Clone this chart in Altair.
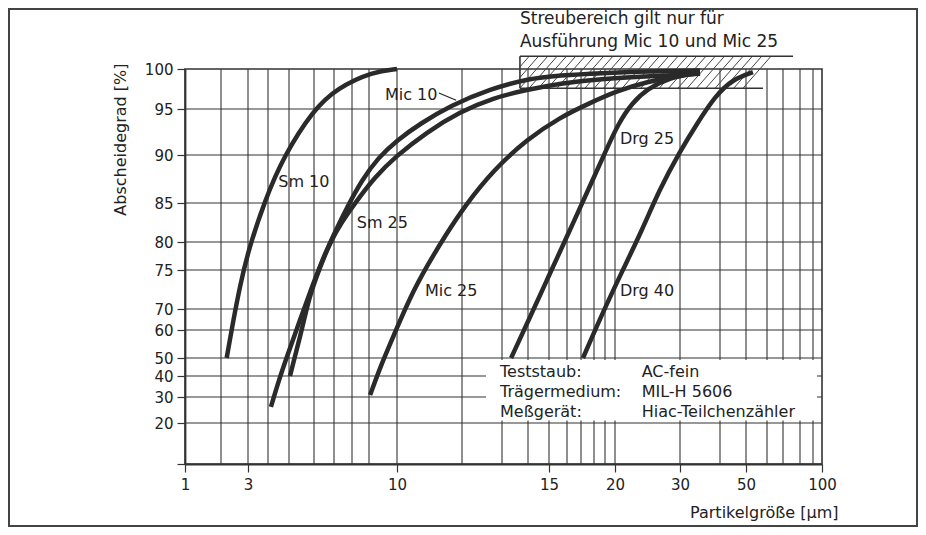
import altair as alt
import pandas as pd
import numpy as np

# ---------------- axis definitions (non-standard printed scales) ----------------
x_breaks = [1, 2, 3, 4, 5, 6, 7, 8, 9, 10, 12, 13, 14, 15, 16, 17, 18, 19, 20, 30, 40, 50, 60, 70, 80, 90, 100]
x_pos = [0, 36, 63, 83, 104, 129, 149, 167, 184, 212, 277, 317, 343, 364, 382, 396, 409, 420, 430, 495, 535, 561, 582, 598, 615, 628, 637]
x_labels = [1, 3, 10, 15, 20, 30, 50, 100]
y_breaks = [10, 20, 30, 40, 50, 60, 70, 75, 80, 85, 90, 95, 100]
y_pos = [395, 354, 328, 307, 289, 261, 240, 201, 173, 134, 86, 40, 0]
y_labels = [20, 30, 40, 50, 60, 70, 75, 80, 85, 90, 95, 100]

# ---------------- curves ----------------
sm10_x = [2.21, 2.46, 2.70, 3.02, 3.85, 4.73, 5.97, 7.15, 9.15, 10.0]
sm10_y = [50, 64.8, 72.9, 78.6, 85.3, 89.8, 94.9, 97.6, 99.7, 100]
mic10_x = [4.14, 4.52, 4.9, 5.44, 5.96, 6.5, 7.06, 7.78, 8.59, 9.32, 10.0, 10.71, 11.63, 12.7, 13.96, 15.61, 18.55, 25.4, 35]
mic10_y = [26.2, 38.1, 50.4, 64.8, 73.2, 77.5, 81.3, 84.7, 87.4, 89.7, 91.6, 93.4, 95.4, 97.5, 98.75, 99.2, 99.5, 99.7, 99.8]
sm25_x = [5.04, 5.24, 5.44, 5.64, 5.84, 6.3, 6.8, 7.44, 8.18, 9.21, 9.93, 10.92, 11.94, 12.78, 13.96, 15.61, 18.55, 25.4, 35]
sm25_y = [40, 50.7, 57.5, 66.7, 71.8, 75.5, 79.9, 82.6, 85, 87.7, 89.8, 92.5, 94.7, 96.4, 97.4, 98.2, 98.75, 99.1, 99.4]
mic25_x = [9.04, 9.43, 9.86, 10.4, 10.92, 11.48, 12.08, 12.78, 13.96, 15.61, 17.69, 20.3, 24.9, 30, 35]
mic25_y = [31.0, 46.1, 57.5, 71.5, 75.7, 80.8, 84.7, 88.4, 91.7, 94.1, 95.75, 97.25, 98.4, 99.2, 99.5]
drg25_x = [13.35, 14.1, 15.06, 16.2, 17.7, 19.1, 20.5, 22.6, 25.1, 28.5, 33.75]
drg25_y = [50, 66.2, 74.6, 81.5, 86.8, 90.5, 93.4, 95.75, 97.6, 98.9, 99.5]
drg40_x = [17.15, 18.82, 21.2, 24.15, 26.8, 30, 34.25, 38.75, 45, 53.3]
drg40_y = [50, 68.6, 75, 81.5, 86.35, 90.4, 93.4, 96.6, 98.75, 99.6]

series_names = ["Sm 10", "Mic 10", "Sm 25", "Mic 25", "Drg 25", "Drg 40"]
series_x = [sm10_x, mic10_x, sm25_x, mic25_x, drg25_x, drg40_x]
series_y = [sm10_y, mic10_y, sm25_y, mic25_y, drg25_y, drg40_y]

# curve labels
label_text = ["Sm 10", "Sm 25", "Mic 10", "Mic 25", "Drg 25", "Drg 40"]
label_x = [4.49, 8.28, 9.57, 10.86, 20.77, 20.77]
label_y = [87.2, 82.5, 96.8, 72.3, 91.7, 72.3]

# scatter band (Streubereich) for Mic 10 / Mic 25
band_x0, band_x1_top, band_x1_bot = 13.69, 75.9, 58.1
band_y0, band_y1 = 97.6, 101.6
band_note = ["Streubereich gilt nur für", "Ausführung Mic 10 und Mic 25"]

# info box
box_keys = ["Teststaub:", "Trägermedium:", "Meßgerät:"]
box_values = ["AC-fein", "MIL-H 5606", "Hiac-Teilchenzähler"]

# ---------------- build tables ----------------
rows = []
for name, xs_, ys_ in zip(series_names, series_x, series_y):
    for i, (a, b) in enumerate(zip(xs_, ys_)):
        rows.append({"series": name, "x": a, "y": b, "i": i})
curves = pd.DataFrame(rows)

labels = pd.DataFrame({"t": label_text, "x": label_x, "y": label_y})

xs = alt.Scale(type="linear", domain=x_breaks, range=x_pos, zero=False, nice=False)
ys = alt.Scale(type="linear", domain=y_breaks, range=y_pos, zero=False, nice=False)

FONT = "DejaVu Sans"
INK = "#2a2a2a"

x_axis = alt.Axis(values=x_labels, grid=False, title="Partikelgröße [µm]",
                  titleX=653, titleY=48, titleAlign="right", titleBaseline="middle",
                  labelFlush=False, labelOverlap=False, labelBound=False,
                  tickSize=8, labelPadding=5)
y_axis = alt.Axis(values=[10] + y_labels, grid=False, title="Abscheidegrad [%]",
                  labelExpr="datum.value == 10 ? '' : datum.label",
                  titleX=-65, titleY=-6, titleAngle=270, titleAlign="right",
                  titleBaseline="middle", labelFlush=False, labelOverlap=False,
                  tickSize=8, labelPadding=4)


def X(f="x"):
    return alt.X(f, type="quantitative", scale=xs, axis=x_axis)


def Y(f="y"):
    return alt.Y(f, type="quantitative", scale=ys, axis=y_axis)


# grid
vgrid = alt.Chart(pd.DataFrame({"x": x_breaks[1:-1]})).mark_rule(
    color="#333", strokeWidth=1.1).encode(x=X())
hgrid = alt.Chart(pd.DataFrame({"y": y_labels[:-1]})).mark_rule(
    color="#333", strokeWidth=1.1).encode(y=Y())


# hatch lines inside the band (laid out in the scale's own pixel space, converted back)
def px_to_x(p):
    return float(np.interp(p, x_pos, x_breaks))


def x_to_px(v):
    return float(np.interp(v, x_breaks, x_pos))


yb_px = (100 - band_y0) * 8.0
yt_px = (100 - band_y1) * 8.0
h_px = yb_px - yt_px
left_px = x_to_px(band_x0)
dx = 28.0
step = 9.3
hatch = []
xb = left_px - dx + step
while xb <= 562:
    xt = xb + dx
    if xb < left_px:
        sx, sy = left_px, yb_px - (left_px - xb) * h_px / dx
    else:
        sx, sy = xb, yb_px
    hatch.append({"x": px_to_x(sx), "y": 100 - sy / 8.0, "x2": px_to_x(xt), "y2": band_y1})
    xb += step
hatch_df = pd.DataFrame(hatch)
hatch_layer = alt.Chart(hatch_df).mark_rule(color="#444", strokeWidth=1).encode(
    x=X(), y=Y(), x2="x2", y2="y2")

band_lines = pd.DataFrame({
    "x": [band_x0, band_x0, band_x0],
    "x2": [band_x1_top, band_x1_bot, band_x0],
    "y": [band_y1, band_y0, band_y0],
    "y2": [band_y1, band_y0, band_y1],
})
band_layer = alt.Chart(band_lines).mark_rule(color="#333", strokeWidth=1.6).encode(
    x=X(), y=Y(), x2="x2", y2="y2")

# white info box covering the grid
box_bg = alt.Chart(pd.DataFrame({"x": [12.6], "x2": [94.4], "y": [21.0], "y2": [48.9]})).mark_rect(
    fill="white").encode(x=X(), x2="x2", y=Y(), y2="y2")

lines = alt.Chart(curves).mark_line(color=INK, strokeWidth=4.5, interpolate="basis",
                                    strokeCap="butt").encode(
    x=X(), y=Y(), detail="series:N", order="i:Q")

label_layer = alt.Chart(labels).mark_text(align="left", baseline="middle", font=FONT,
                                          fontSize=16, color="#222").encode(
    x=X(), y=Y(), text="t:N")

leader = alt.Chart(pd.DataFrame({"x": [11.29], "y": [97.0], "x2": [11.82], "y2": [96.1]})).mark_rule(
    color="#222", strokeWidth=1.2).encode(x=X(), y=Y(), x2="x2", y2="y2")

note = alt.Chart(pd.DataFrame({"t": band_note, "x": [band_x0, band_x0], "y": [105.6, 102.75]})).mark_text(
    align="left", baseline="alphabetic", font=FONT, fontSize=17, color="#222").encode(
    x=X(), y=Y(), text="t:N")

box_text = alt.Chart(pd.DataFrame({
    "t": box_keys + box_values,
    "x": [12.95] * 3 + [24.1] * 3,
    "y": [42.4, 32.5, 24.3] * 2,
})).mark_text(align="left", baseline="middle", font=FONT, fontSize=16, color="#222").encode(
    x=X(), y=Y(), text="t:N")

frame = alt.Chart(pd.DataFrame({"a": [0]})).mark_rect(
    fillOpacity=0, stroke="#444", strokeWidth=2).encode(
    x=alt.value(-176), x2=alt.value(732), y=alt.value(-60), y2=alt.value(457))

chart = alt.layer(vgrid, hgrid, hatch_layer, band_layer, box_bg, lines, label_layer,
                  leader, note, box_text, frame).properties(
    width=637, height=395,
    padding={"left": 177, "top": 61, "right": 96, "bottom": 63},
    autosize=alt.AutoSizeParams(type="none"),
    background="white",
).configure(font=FONT).configure_view(
    stroke="#333", strokeWidth=1.6
).configure_axis(
    domainColor="#333", domainWidth=1.8, tickColor="#333", tickWidth=1.2,
    labelColor="#222", labelFont=FONT, labelFontSize=15,
    titleColor="#222", titleFont=FONT, titleFontSize=16, titleFontWeight="normal",
)

chart.save("out.html", embed_options={"renderer": "svg", "actions": False})
